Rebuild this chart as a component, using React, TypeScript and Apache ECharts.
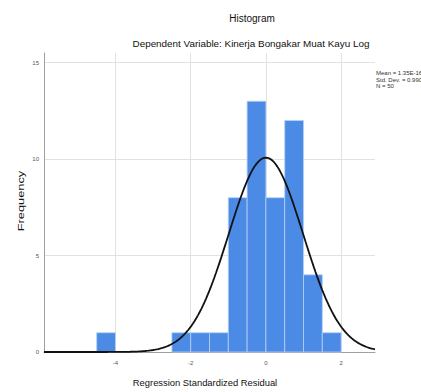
import React, { useEffect, useRef } from "react";
import * as echarts from "echarts";

const binStarts = [-4.5, -2.5, -2.0, -1.5, -1.0, -0.5, 0.0, 0.5, 1.0, 1.5];
const binCounts = [1, 1, 1, 1, 8, 13, 8, 12, 4, 1];
const binWidth = 0.5;
const xTicks = [-4, -2, 0, 2];
const yTicks = [0, 5, 10, 15];
const meanVal = 0;
const stdDev = 0.99;
const nCount = 50;
const legendLines = ["Mean = 1.35E-16", "Std. Dev. = 0.990", "N = 50"];

export default function App() {
  const ref = useRef<HTMLDivElement>(null);
  useEffect(() => {
    if (!ref.current) return;
    const chart = echarts.init(ref.current, null, { renderer: "svg" });
    const xMin = -5.9;
    const xMax = 2.9;
    const curve: number[][] = [];
    const steps = 200;
    for (let i = 0; i <= steps; i++) {
      const x = xMin + ((xMax - xMin) * i) / steps;
      const z = (x - meanVal) / stdDev;
      const y = (nCount * binWidth) / (stdDev * Math.sqrt(2 * Math.PI)) * Math.exp(-0.5 * z * z);
      curve.push([x, y]);
    }
    const barData = binStarts.map((s, i) => [s, s + binWidth, binCounts[i]]);
    const font = "Liberation Sans, Arial, sans-serif";
    chart.setOption({
      animation: false,
      grid: { left: 44, right: 46, top: 53, bottom: 40 },
      xAxis: {
        type: "value",
        min: xMin,
        max: xMax,
        axisLine: { show: true, onZero: false, lineStyle: { color: "#a0a0a0", width: 1 } },
        axisTick: { show: false, customValues: xTicks },
        axisLabel: { customValues: xTicks, fontSize: 6, color: "#555", fontFamily: font, margin: 8 },
        splitLine: { show: true, lineStyle: { color: "#e2e2e2", width: 1 } },
      },
      yAxis: {
        type: "value",
        min: 0,
        max: 15.5,
        axisLine: { show: true, onZero: false, lineStyle: { color: "#a0a0a0", width: 1 } },
        axisTick: { show: false, customValues: yTicks },
        axisLabel: { customValues: yTicks, fontSize: 6, color: "#555", fontFamily: font, margin: 5 },
        splitLine: { show: true, lineStyle: { color: "#e2e2e2", width: 1 } },
      },
      series: [
        {
          type: "custom",
          data: barData,
          encode: { x: [0, 1], y: 2 },
          renderItem: (params: any, api: any) => {
            const p0 = api.coord([api.value(0), api.value(2)]);
            const p1 = api.coord([api.value(1), 0]);
            return {
              type: "rect",
              shape: { x: p0[0], y: p0[1], width: p1[0] - p0[0], height: p1[1] - p0[1] },
              style: { fill: "#4b8be6", stroke: "#b7d0f5", lineWidth: 0.8 },
            };
          },
          z: 2,
        },
        {
          type: "line",
          data: curve,
          showSymbol: false,
          smooth: false,
          lineStyle: { color: "#111", width: 1.8 },
          z: 3,
        },
      ],
      graphic: [
        {
          type: "text",
          x: 252,
          y: 18,
          style: { text: "Histogram", fontSize: 10, fill: "#111", fontFamily: font, textAlign: "center", textVerticalAlign: "middle" },
        },
        {
          type: "text",
          x: 251,
          y: 43,
          style: {
            text: "Dependent Variable: Kinerja Bongakar Muat Kayu Log",
            fontSize: 9.9,
            fill: "#111",
            fontFamily: font,
            textAlign: "center",
            textVerticalAlign: "middle",
          },
        },
        {
          type: "text",
          x: 205,
          y: 382,
          style: {
            text: "Regression Standardized Residual",
            fontSize: 9.4,
            fill: "#111",
            fontFamily: font,
            textAlign: "center",
            textVerticalAlign: "middle",
          },
        },
        {
          type: "text",
          x: 21,
          y: 201,
          rotation: Math.PI / 2,
          scaleX: 1.35,
          style: { text: "Frequency", fontSize: 9.5, fill: "#111", fontFamily: font, textAlign: "center", textVerticalAlign: "middle" },
        },
        ...legendLines.map((t, i) => ({
          type: "text",
          x: 376,
          y: 73 + i * 6.5,
          style: { text: t, fontSize: 6, fill: "#333", fontFamily: font, textAlign: "left", textVerticalAlign: "middle" },
        })),
      ],
    });
    return () => chart.dispose();
  }, []);
  return <div ref={ref} style={{ position: "fixed", left: 0, top: 0, width: 421, height: 392, background: "#fff" }} />;
}
